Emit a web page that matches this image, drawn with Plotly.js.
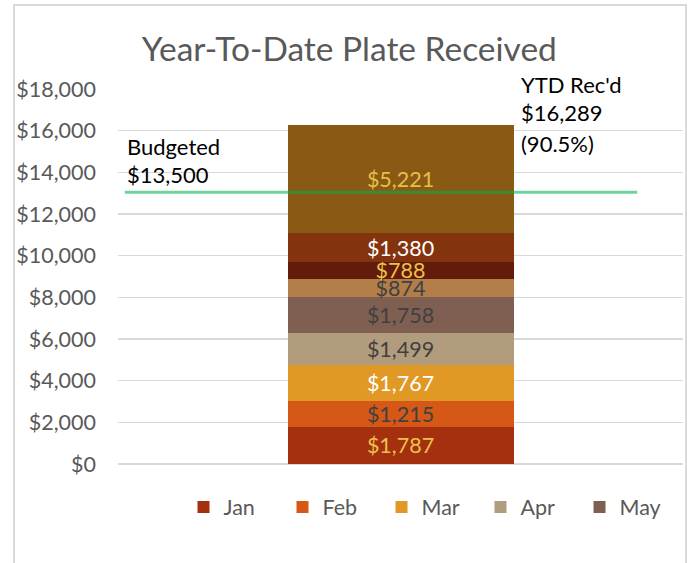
<!DOCTYPE html>
<html>
<head>
<meta charset="utf-8">
<script src="https://cdn.plot.ly/plotly-3.0.1.min.js"></script>
<style>
  html, body { margin: 0; padding: 0; background: #ffffff; overflow: hidden; }
  #chart { position: absolute; left: 0; top: 0; width: 689px; height: 563px; }
  #frame { position: absolute; left: 13px; top: 4px; width: 670px; height: 620px;
           border: 2px solid #D9D9D9; pointer-events: none; }
</style>
</head>
<body>
<div id="chart"></div>
<div id="frame"></div>
<script>
// ---- data ----
var category = ["YTD"];
var months = ["Jan", "Feb", "Mar", "Apr", "May", "Jun", "Jul", "Aug", "Sep"];
var amounts = [1787, 1215, 1767, 1499, 1758, 874, 788, 1380, 5221];
var legendShown = [true, true, true, true, true, false, false, false, false];
var annualGoal = 18000;
var budgeted = 13500;
var budgetLineValue = 13050;   // where the green budget line is drawn in the picture
var yTicks = [0, 2000, 4000, 6000, 8000, 10000, 12000, 14000, 16000, 18000];

// ---- styles ----
var barColors = ["#A5300F", "#D55816", "#E19825", "#B19C7D", "#7F5F52",
                 "#B27D49", "#631B0B", "#83340F", "#8A5A15"];
var labelColors = ["#EBC24A", "#404040", "#FFFFFF", "#404040", "#404040",
                   "#404040", "#EBC24A", "#FFFFFF", "#E6BF45"];
var FONT = "Lato, 'Noto Sans', sans-serif";

function money(v) { return "$" + v.toLocaleString("en-US"); }

var traces = months.map(function (m, i) {
  return {
    type: "bar",
    name: m,
    x: category,
    y: [amounts[i]],
    text: [money(amounts[i])],
    textposition: "inside",
    insidetextanchor: "middle",
    constraintext: "none",
    textfont: { family: FONT, size: 21.5, color: labelColors[i] },
    marker: { color: barColors[i], line: { width: 0 } },
    showlegend: legendShown[i],
    hoverinfo: "skip"
  };
});

var total = amounts.reduce(function (a, b) { return a + b; }, 0);
var pct = (total / annualGoal * 100).toFixed(1);

var annFont = { family: FONT, size: 22, color: "#000000" };
function ann(text, x, y) {
  return { text: text, xref: "paper", yref: "paper", x: x, y: y,
           xanchor: "left", yanchor: "middle", showarrow: false, font: annFont };
}

var layout = {
  width: 689, height: 563,
  margin: { l: 118, r: 6, t: 89, b: 99, autoexpand: false },
  paper_bgcolor: "#ffffff",
  plot_bgcolor: "#ffffff",
  barmode: "stack",
  bargap: 0.6,
  title: {
    text: "Year-To-Date Plate Received",
    font: { family: FONT, size: 33.5, color: "#595959" },
    xref: "container", yref: "container",
    x: 0.507, y: 0.913, xanchor: "center", yanchor: "middle"
  },
  xaxis: {
    showticklabels: false, showgrid: false, zeroline: false,
    showline: false, ticks: "", fixedrange: true
  },
  yaxis: {
    range: [0, annualGoal],
    tickvals: yTicks,
    ticktext: yTicks.map(money),
    tickfont: { family: FONT, size: 21.5, color: "#595959" },
    ticklabelstandoff: 21,
    showgrid: true, gridcolor: "#D9D9D9", gridwidth: 1.5,
    zeroline: true, zerolinecolor: "#D9D9D9", zerolinewidth: 1.5,
    showline: false, ticks: "", fixedrange: true
  },
  legend: {
    orientation: "h",
    x: 0.554, xanchor: "center",
    y: -0.115, yanchor: "middle",
    font: { family: FONT, size: 21.5, color: "#595959" },
    entrywidth: 54, entrywidthmode: "pixels",
    itemwidth: 30,
    traceorder: "normal"
  },
  shapes: [{
    type: "line", xref: "paper", yref: "y",
    x0: 0.012, x1: 0.919, y0: budgetLineValue, y1: budgetLineValue,
    line: { color: "rgba(0,176,80,0.56)", width: 3 },
    layer: "above"
  }],
  annotations: [
    ann("Budgeted", 0.012, 0.848),
    ann(money(budgeted), 0.012, 0.773),
    ann("YTD Rec'd", 0.709, 1.011),
    ann(money(total), 0.709, 0.936),
    ann("(" + pct + "%)", 0.709, 0.856)
  ]
};

Plotly.newPlot("chart", traces, layout, { displayModeBar: false, staticPlot: true });
</script>
</body>
</html>
